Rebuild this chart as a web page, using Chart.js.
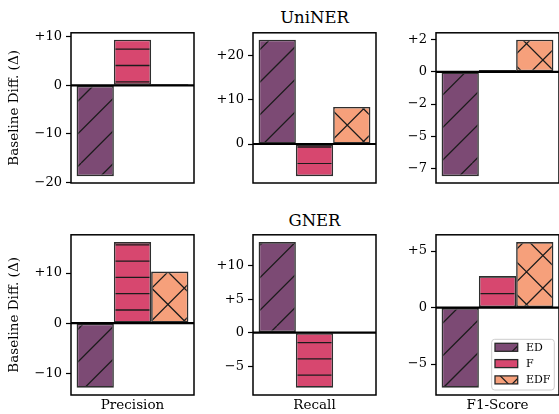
<!DOCTYPE html>
<html>
<head>
<meta charset="utf-8">
<script src="https://cdn.jsdelivr.net/npm/chart.js@4.4.1/dist/chart.umd.min.js"></script>
<style>
  body { margin: 0; width: 559px; height: 414px; overflow: hidden; background: #fff; position: relative; font-family: 'DejaVu Serif', serif; }
  canvas { position: absolute; }
  .title { position: absolute; font-size: 16.5px; transform: translate(-50%, -50%); white-space: nowrap; color: #000; }
</style>
</head>
<body>
<div class="title" style="left:314.5px; top:17px">UniNER</div>
<div class="title" style="left:314.5px; top:219.5px">GNER</div>
<script>
// data
const metrics = ['Precision', 'Recall', 'F1-Score'];
const methods = ['ED', 'F', 'EDF'];

const unerED  = [-18.7, 23.7, -8.1];
const unerF   = [9.4, -7.3, 0.15];
const unerEDF = [0.25, 8.4, 2.5];

const gnerED  = [-12.9, 13.5, -7.1];
const gnerF   = [16.2, -8.2, 2.8];
const gnerEDF = [10.3, 0, 5.8];

const unerTicks = [[10, 0, -10, -20], [20, 10, 0], [2.5, 0, -2.5, -5, -7.5]];
const gnerTicks = [[10, 0, -10], [10, 5, 0, -5], [5, 0, -5]];

const rows = [[unerED, unerF, unerEDF], [gnerED, gnerF, gnerEDF]];
const rowTicks = [unerTicks, gnerTicks];

const colors = ['#7c4a74', '#d7476f', '#f6a07b'];
const hatches = ['/', '-', 'x'];

// layout (page px)
const panelLeft = [71, 253, 436];
const panelTop = [31, 233];
const panelW = 123, panelH = 162;

Chart.defaults.font.family = "'DejaVu Serif', serif";
Chart.defaults.color = '#000';

function fmtTick(v) {
  const t = Math.trunc(v);
  if (t > 0) return '+' + t;
  if (t < 0) return '\u2212' + Math.abs(t);
  return '0';
}

// hatch pattern, aligned to the page so all panels share the phase
function makeHatch(ctx, color, hatch, ox, oy) {
  const S = 163, d = 32.6, h = 16.3;
  const tile = document.createElement('canvas');
  tile.width = S; tile.height = S;
  const g = tile.getContext('2d');
  g.fillStyle = color;
  g.fillRect(0, 0, S, S);
  g.strokeStyle = '#1c1c1c';
  g.lineWidth = 1.3;
  g.beginPath();
  if (hatch === '/' || hatch === 'x') {
    for (let k = -1; k <= 11; k++) {
      const c = 16 + k * d;
      g.moveTo(c, 0); g.lineTo(c - S, S);
    }
  }
  if (hatch === 'x') {
    for (let k = -6; k <= 6; k++) {
      const c = 26.5 + k * d;
      g.moveTo(c, 0); g.lineTo(c + S, S);
    }
  }
  if (hatch === '-') {
    for (let k = 0; k < 10; k++) {
      const y = 0.3 + k * h;
      g.moveTo(0, y); g.lineTo(S, y);
    }
  }
  g.stroke();
  const p = ctx.createPattern(tile, 'repeat');
  p.setTransform(new DOMMatrix([1, 0, 0, 1, -ox, -oy]));
  return p;
}

const frame = {
  id: 'frame',
  afterDatasetsDraw(chart) {
    const { ctx, chartArea: a, scales: { y } } = chart;
    ctx.save();
    ctx.strokeStyle = '#000';
    ctx.lineWidth = 2.2;
    const y0 = y.getPixelForValue(0);
    ctx.beginPath();
    ctx.moveTo(a.left, y0);
    ctx.lineTo(a.right, y0);
    ctx.stroke();
    ctx.lineWidth = 1.5;
    ctx.strokeRect(a.left, a.top, a.right - a.left, a.bottom - a.top);
    ctx.restore();
  }
};

const legendBox = {
  id: 'legendBox',
  afterDraw(chart) {
    const { ctx, chartArea: a } = chart;
    const w = 62.6, hgt = 50.7;
    const x0 = a.right - 4.7 - w, y0 = a.bottom - 5 - hgt;
    ctx.save();
    ctx.beginPath();
    ctx.roundRect(x0, y0, w, hgt, 3);
    ctx.fillStyle = 'rgba(255,255,255,0.8)';
    ctx.fill();
    ctx.strokeStyle = '#cccccc';
    ctx.lineWidth = 1;
    ctx.stroke();
    ctx.font = "11px 'DejaVu Serif', serif";
    ctx.textBaseline = 'middle';
    chart.data.datasets.forEach((ds, i) => {
      const cy = y0 + 8 + i * 16.3;
      ctx.fillStyle = ds.backgroundColor;
      ctx.fillRect(x0 + 3.3, cy - 4, 22.7, 8);
      ctx.strokeStyle = '#2a2a2a';
      ctx.lineWidth = 1.3;
      ctx.strokeRect(x0 + 3.3, cy - 4, 22.7, 8);
      ctx.fillStyle = '#000';
      ctx.fillText(ds.label, x0 + 34.3, cy + 0.5);
    });
    ctx.restore();
  }
};

for (let r = 0; r < 2; r++) {
  for (let c = 0; c < 3; c++) {
    const AX = c === 0 ? 71 : 50;
    const PT = 10, PR = 4;
    const PB = r === 1 ? 19 : 10;
    const left = panelLeft[c] - AX, top = panelTop[r] - PT;
    const W = AX + panelW + PR, H = PT + panelH + PB;

    const canvas = document.createElement('canvas');
    canvas.style.left = left + 'px';
    canvas.style.top = top + 'px';
    canvas.style.width = W + 'px';
    canvas.style.height = H + 'px';
    canvas.width = W; canvas.height = H;
    document.body.appendChild(canvas);
    const ctx = canvas.getContext('2d');

    const vals = rows[r].map(s => s[c]);
    const lo = Math.min(0, ...vals), hi = Math.max(0, ...vals);
    const pad = 0.05 * (hi - lo);
    const yt = rowTicks[r][c];

    const datasets = methods.map((m, i) => ({
      label: m,
      data: [rows[r][i][c]],
      backgroundColor: makeHatch(ctx, colors[i], hatches[i], left, top),
      borderColor: '#2e2e2e',
      borderWidth: 1.6,
      borderSkipped: false,
      categoryPercentage: 1 / 1.1,
      barPercentage: 1
    }));

    new Chart(canvas, {
      type: 'bar',
      data: { labels: [metrics[c]], datasets: datasets },
      options: {
        responsive: false,
        animation: false,
        layout: { padding: { top: PT, right: PR, bottom: r === 1 ? 0 : PB, left: 0 } },
        plugins: { legend: { display: false }, tooltip: { enabled: false } },
        scales: {
          x: {
            display: r === 1,
            grid: { display: false },
            border: { display: false },
            ticks: { display: false },
            title: { display: true, text: metrics[c], font: { size: 13.5 }, color: '#000', padding: { top: 0, bottom: 0 } },
            afterFit: s => { s.height = PB; }
          },
          y: {
            min: lo - pad,
            max: hi + pad,
            afterBuildTicks: ax => { ax.ticks = yt.map(v => ({ value: v })); },
            grid: { drawOnChartArea: false, drawTicks: true, tickLength: 5, tickWidth: 1.2, tickColor: '#000' },
            border: { display: false },
            ticks: { autoSkip: false, callback: v => fmtTick(v), font: { size: 13 }, padding: 4, color: '#000' },
            title: { display: c === 0, text: 'Baseline Diff. (Δ)', font: { size: 13.5 }, color: '#000', padding: { top: 6, bottom: 0 } },
            afterFit: s => { s.width = AX; }
          }
        }
      },
      plugins: r === 1 && c === 2 ? [frame, legendBox] : [frame]
    });
  }
}
</script>
</body>
</html>
